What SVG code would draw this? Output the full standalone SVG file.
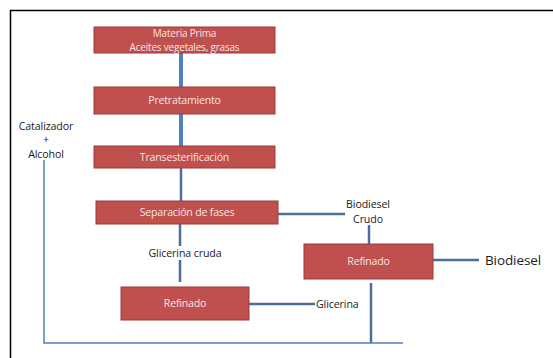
<svg xmlns="http://www.w3.org/2000/svg" width="553" height="358" viewBox="0 0 553 358">
<style>
.box{fill:#c0504d;stroke:#9b3b39;stroke-width:1}
.bt{font-family:"Open Sans","Liberation Sans",sans-serif;font-size:10.6px;fill:#f6e4e4;text-anchor:middle;letter-spacing:-0.2px}
.lt{font-family:"Open Sans","Liberation Sans",sans-serif;font-size:10.6px;fill:#1a1a1a;letter-spacing:-0.1px}
.c{stroke:#4a6e9e;stroke-width:2.5;fill:none}
.thick{stroke:#4f81bd;stroke-width:4;fill:none}
.thin{stroke:#4f81bd;stroke-width:1.5;fill:none}
</style>
<rect width="553" height="358" fill="#fff"/>
<path d="M10.5,358 V10.5 H553" fill="none" stroke="#000" stroke-width="1.5"/>
<g id="connectors">
<line class="thick" x1="181" y1="53" x2="181" y2="87"/>
<line class="thick" x1="181" y1="114" x2="181" y2="146"/>
<line class="c" x1="181" y1="168" x2="181" y2="201"/>
<line class="c" x1="180" y1="224" x2="180" y2="246"/>
<line class="c" x1="180" y1="260" x2="180" y2="282"/>
<line class="c" x1="278" y1="214" x2="345" y2="214"/>
<line class="c" x1="369" y1="225" x2="369" y2="244"/>
<line class="c" x1="433" y1="260" x2="479" y2="260"/>
<line class="c" x1="249" y1="304" x2="315" y2="304"/>
<line class="c" x1="371" y1="283" x2="371" y2="343"/>
<path class="thin" d="M44,160 V343 H403"/>
</g>
<g id="n1"><rect class="box" x="94" y="27" width="181" height="26"/><text class="bt" x="184.5" y="37" style="font-size:10px">Materia Prima</text><text class="bt" x="184.5" y="50.5" style="font-size:10px">Aceites vegetales, grasas</text></g>
<g id="n2"><rect class="box" x="94" y="87" width="181" height="27"/><text class="bt" x="184.5" y="104">Pretratamiento</text></g>
<g id="n3"><rect class="box" x="94" y="146" width="181" height="22"/><text class="bt" x="184.5" y="160.5">Transesterificación</text></g>
<g id="n4"><rect class="box" x="96" y="201" width="182" height="23"/><text class="bt" x="187" y="216">Separación de fases</text></g>
<g id="n5"><rect class="box" x="121" y="287" width="128" height="33"/><text class="bt" x="185" y="307">Refinado</text></g>
<g id="n6"><rect class="box" x="304" y="244" width="129" height="35"/><text class="bt" x="368.5" y="265">Refinado</text></g>
<g id="labels">
<text class="lt" x="46" y="129.5" text-anchor="middle">Catalizador</text>
<text class="lt" x="46" y="143" text-anchor="middle">+</text>
<text class="lt" x="46" y="157.5" text-anchor="middle">Alcohol</text>
<text class="lt" x="185" y="257" text-anchor="middle">Glicerina cruda</text>
<text class="lt" x="368" y="207.5" text-anchor="middle">Biodiesel</text>
<text class="lt" x="368" y="222.5" text-anchor="middle">Crudo</text>
<text class="lt" x="316" y="307.5">Glicerina</text>
<text class="lt" x="485" y="265" style="font-size:13.5px">Biodiesel</text>
</g>
</svg>
